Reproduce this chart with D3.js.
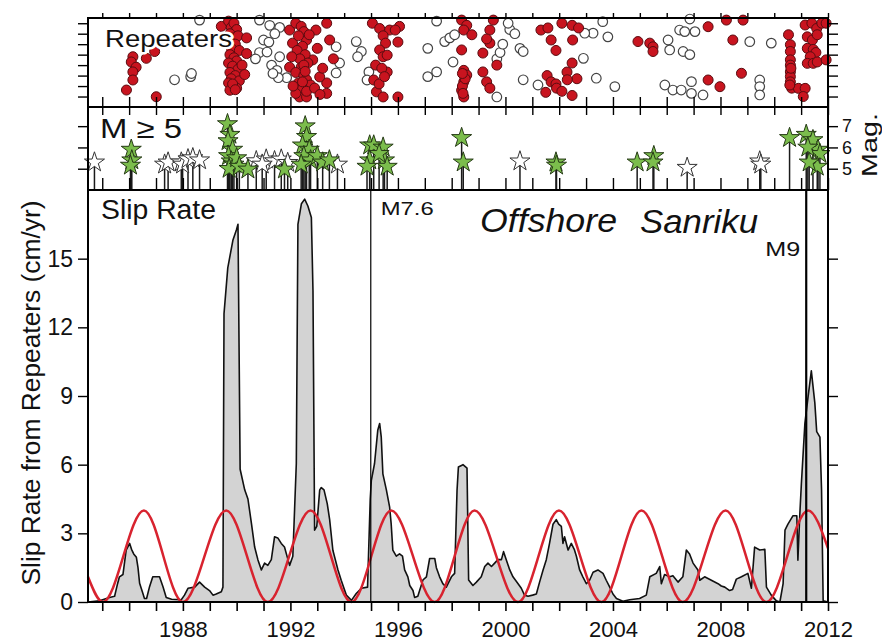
<!DOCTYPE html>
<html>
<head>
<meta charset="utf-8">
<script src="https://cdn.jsdelivr.net/npm/d3@7"></script>
<style>
  body { margin: 0; background: #fff; }
  svg { display: block; font-family: "Liberation Sans", Arial, sans-serif; }
</style>
</head>
<body>
<svg id="chart" width="882" height="643"></svg>
<script>
// tick years on the time axis
const yearTicks = d3.range(1985, 2013);
const yearLabels = [1988, 1992, 1996, 2000, 2004, 2008, 2012];
const slipTicks = [0, 3, 6, 9, 12, 15];
const magTicks = [5, 6, 7];
const repTicks = [1, 2, 3, 4, 5, 6, 7, 8];

// repeating earthquakes [year, sequence position]
const repRed = [
  [1985.9,1.62],[1986.14,4.8],[1986.08,4.3],[1986.26,3.8],[1986.14,3.35],[1986.14,2.58],
  [1986.64,4.65],[1986.95,5.3],[1987.01,0.98],
  [1989.43,7.7],[1989.7,8.2],[1989.8,7.6],[1989.9,8.0],[1990.0,7.4],[1989.75,7.0],[1989.85,6.6],
  [1990.05,6.8],[1989.7,6.2],[1989.95,6.0],[1989.8,5.6],[1990.1,5.4],[1989.75,5.0],[1989.9,4.7],
  [1990.0,4.4],[1989.7,4.2],[1989.85,3.9],[1990.05,3.6],[1989.75,3.3],[1989.95,3.0],[1989.8,2.7],
  [1990.1,2.5],[1989.7,2.3],[1989.9,2.0],[1990.0,1.8],[1989.75,1.6],[1990.37,6.6],[1990.37,5.1],
  [1990.2,4.0],[1990.3,3.1],[1989.85,2.2],[1989.95,1.65],
  [1991.97,7.35],[1992.08,6.1],[1991.97,3.8],[1992.34,0.96],[1992.6,0.96],[1993.35,1.3],
  [1993.35,2.3],[1993.09,2.87],[1992.83,4.5],[1992.6,6.4],[1992.95,7.35],[1993.35,8.0],
  [1993.46,6.4],[1993.6,4.6],[1992.2,8.0],[1992.4,7.7],[1992.5,7.2],[1992.3,6.8],[1992.7,6.9],
  [1992.45,5.8],[1992.25,5.4],[1992.55,5.0],[1992.35,4.6],[1992.65,4.2],[1992.4,3.8],
  [1992.2,3.3],[1992.5,3.0],[1992.6,2.6],[1992.3,2.3],[1992.75,2.1],[1992.45,1.8],[1992.6,1.5],
  [1992.2,1.3],[1993.0,5.6],[1993.2,3.7],[1992.9,1.8],[1993.1,1.2],[1992.1,2.0],[1992.05,4.8],
  [1992.5,4.0],[1992.55,3.4],[1992.45,2.4],
  [1995.05,8.0],[1995.32,7.5],[1995.69,7.35],[1996.06,7.7],[1995.9,7.35],[1995.45,6.8],
  [1995.54,6.1],[1995.32,5.45],[1995.45,4.8],[1995.6,4.95],[1995.17,4.0],[1995.6,3.34],
  [1995.1,2.58],[1995.2,1.45],[1995.45,0.96],[1996.0,0.96],[1996.0,6.2],[1995.4,3.7],
  [1995.3,2.2],[1995.5,2.9],
  [1998.37,8.3],[1998.56,7.8],[1998.45,7.35],[1998.75,6.9],[1998.37,5.45],[1998.45,3.5],
  [1998.56,3.05],[1998.45,2.4],[1998.37,1.6],[1998.45,0.96],[1998.4,2.0],[1998.5,2.7],
  [1998.42,1.3],[1998.4,3.2],
  [1999.16,5.15],[1999.42,6.1],[1999.42,7.35],[1999.55,8.3],[1999.16,3.35],[1999.3,2.4],
  [1999.42,1.8],[1999.68,4.0],[1999.3,6.5],
  [2001.32,7.35],[2001.58,7.55],[2001.7,6.4],[2001.88,5.4],[2002.1,8.0],[2002.48,7.8],
  [2002.72,7.55],[2002.5,6.4],[2002.48,4.2],[2002.29,3.34],[2002.66,2.7],[2001.55,3.0],
  [2001.7,2.4],[2001.88,2.2],[2001.5,1.4],[2002.48,1.1],[2001.9,1.8],[2002.1,1.5],[2002.3,2.6],
  [2004.93,6.25],[2005.37,6.1],[2005.49,5.75],[2005.49,5.3],
  [2007.54,7.67],[2007.54,2.58],[2007.98,1.94],[2008.22,8.3],[2008.84,8.3],[2008.46,6.4],
  [2008.78,3.22],
  [2010.53,6.9],[2010.6,5.95],[2010.6,5.3],[2010.6,4.5],[2010.6,4.0],[2010.6,3.35],
  [2010.6,2.9],[2010.6,2.4],[2010.65,1.8],[2010.9,1.78],[2011.15,1.78],[2011.08,1.0],
  [2011.15,7.83],[2011.4,8.0],[2011.58,7.5],[2011.77,8.0],[2011.93,8.0],[2011.23,6.7],
  [2011.42,6.4],[2011.6,6.9],[2011.23,5.6],[2011.45,5.5],[2011.55,5.2],[2011.34,4.8],
  [2011.23,4.17],[2011.45,4.17],[2011.6,4.3],[2011.93,4.5],[2010.62,3.7],[2010.58,2.1]
];
const repOpen = [
  [1987.69,2.6],[1988.29,2.9],[1988.32,3.2],[1988.62,8.3],
  [1990.85,8.3],[1991.23,7.8],[1991.6,7.6],[1991.42,7.0],[1990.85,5.2],[1991.13,5.25],
  [1991.6,4.8],[1991.3,4.0],[1991.5,3.5],[1991.86,2.8],[1991.55,2.8],[1991.35,3.2],
  [1990.7,4.6],[1991.0,6.4],[1991.2,6.2],
  [1993.7,5.75],[1993.83,4.2],[1993.7,3.25],[1994.45,6.25],[1994.64,5.3],[1994.5,4.8],
  [1994.92,3.35],[1994.85,2.58],
  [1997.11,5.6],[1997.44,8.2],[1997.74,6.25],[1997.93,6.6],[1998.11,6.9],[1998.05,4.3],
  [1997.44,3.35],[1997.11,2.9],
  [1999.68,0.96],[1999.68,4.6],[1999.8,5.2],[1999.9,6.0],[2000.16,7.4],[2000.1,8.0],
  [2000.35,7.0],[2000.54,5.6],[2000.66,5.3],[2000.66,2.6],[2001.21,2.1],
  [2002.9,4.65],[2003.38,2.75],[2004.07,1.95],[2003.62,8.15],[2003.26,7.05],[2003.81,6.7],
  [2002.95,7.05],
  [2006.05,6.4],[2006.11,5.45],[2006.48,7.35],[2006.67,7.2],[2007.05,7.2],[2006.86,8.4],
  [2006.61,5.3],[2006.86,5.0],[2005.93,2.1],[2006.23,1.62],[2006.54,1.62],[2006.92,2.42],
  [2006.92,1.3],[2007.35,1.15],
  [2009.09,6.24],[2009.89,6.1],[2009.46,2.58],[2009.46,1.95],[2009.46,1.15]
];

// M >= 5 earthquakes [year, magnitude]
const quakesGreen = [
  [1986.08,5.9],[1986.1,5.4],[1986.05,5.15],
  [1989.66,7.1],[1989.75,6.6],[1989.68,6.3],[1989.85,5.9],[1989.7,5.6],[1989.8,5.35],
  [1989.9,5.2],[1989.72,5.0],[1990.0,5.5],[1990.1,5.1],[1990.42,4.97],[1991.78,4.97],
  [1992.55,7.0],[1992.6,6.5],[1992.45,6.1],[1992.7,5.9],[1992.5,5.6],[1992.75,5.4],
  [1993.0,5.6],[1993.2,5.3],[1993.45,5.4],[1992.4,5.2],
  [1994.95,6.1],[1995.1,6.1],[1995.45,6.0],[1994.95,5.4],[1995.5,5.4],[1995.6,5.1],
  [1994.85,5.1],[1995.3,5.7],
  [1998.37,6.45],[1998.43,5.3],
  [2001.88,5.3],[2001.9,5.15],
  [2004.9,5.3],
  [2005.52,5.6],[2005.49,5.3],
  [2010.57,6.45],[2011.19,6.6],[2011.44,6.35],[2011.63,5.9],[2011.7,5.7],[2011.6,5.1],
  [2011.3,5.3],[2011.25,6.0]
];
const quakesWhite = [
  [1984.71,5.3],[1987.32,5.2],[1987.45,5.3],[1987.94,5.3],[1987.99,5.2],[1988.19,5.45],
  [1988.37,5.5],[1988.62,5.4],
  [1990.73,5.36],[1991.1,5.44],[1991.41,5.36],[1991.66,5.44],[1991.9,5.28],[1990.95,5.2],
  [1993.75,5.2],
  [2000.54,5.35],
  [2006.76,5.05],
  [2009.46,5.35],[2009.5,5.2]
];

// slip rate from repeaters [year, cm/yr]
const slipRate = [
  [1984.47,0],[1984.9,0.05],[1985.27,0.2],[1985.46,0.25],[1985.57,0.8],[1985.64,1.1],
  [1985.77,1.2],[1985.89,2.27],[1986.02,2.56],[1986.09,2.3],[1986.17,2.1],[1986.27,1.95],
  [1986.33,1.5],[1986.39,0.82],[1986.51,0.38],[1986.57,0.15],[1986.65,0.15],[1986.76,0.67],
  [1986.88,1.1],[1987.13,1.1],[1987.26,0.67],[1987.38,0.2],[1987.58,0.12],[1987.94,0.1],
  [1988.06,0.3],[1988.19,0.6],[1988.44,0.65],[1988.62,0.87],[1988.81,0.65],[1988.99,0.5],
  [1989.12,0.3],[1989.24,0.35],[1989.43,0.45],[1989.49,0.65],[1989.53,12.6],[1989.67,14.6],
  [1989.86,15.8],[1989.99,16.25],[1990.05,16.5],[1990.13,5.8],[1990.3,4.9],[1990.42,4.5],
  [1990.55,3.44],[1990.67,2.4],[1990.79,1.85],[1990.92,1.4],[1991.04,1.7],[1991.16,1.6],
  [1991.29,1.85],[1991.41,2.85],[1991.53,2.8],[1991.66,2.56],[1991.78,2.4],[1991.91,1.85],
  [1991.97,1.6],[1992.09,2.0],[1992.22,6.05],[1992.28,16.5],[1992.41,17.4],[1992.53,17.6],
  [1992.65,17.3],[1992.78,16.8],[1992.84,13.6],[1992.9,3.14],[1992.98,3.3],[1993.09,4.9],
  [1993.15,5.0],[1993.25,4.9],[1993.37,4.3],[1993.46,3.6],[1993.58,2.26],[1993.77,1.4],
  [1993.89,0.95],[1994.08,0.3],[1994.27,0.07],[1994.45,0.37],[1994.64,0.6],[1994.87,0.65],
  [1994.97,4.5],[1995.01,5.3],[1995.13,6.05],[1995.25,7.5],[1995.32,7.8],[1995.38,7.2],
  [1995.44,5.6],[1995.57,4.9],[1995.69,4.16],[1995.75,3.4],[1995.81,2.27],[1995.94,2.0],
  [1996.06,2.1],[1996.17,2.0],[1996.25,1.4],[1996.37,1.1],[1996.44,0.72],[1996.56,0.5],
  [1996.62,0.2],[1996.74,0.25],[1996.93,0.96],[1997.06,1.1],[1997.18,1.9],[1997.37,1.9],
  [1997.43,1.5],[1997.55,1.1],[1997.67,0.8],[1997.8,0.65],[1997.99,1.1],[1998.11,1.25],
  [1998.2,4.9],[1998.25,5.9],[1998.42,6.0],[1998.57,5.85],[1998.63,0.96],[1998.79,0.72],
  [1998.92,0.87],[1999.1,1.1],[1999.23,1.55],[1999.35,1.7],[1999.48,1.55],[1999.6,1.7],
  [1999.72,1.85],[1999.85,1.85],[1999.93,2.2],[2000.03,1.85],[2000.16,1.4],[2000.28,1.1],
  [2000.47,0.8],[2000.59,0.6],[2000.71,0.3],[2000.84,0.25],[2001.01,0.3],[2001.15,0.35],
  [2001.27,0.87],[2001.4,1.4],[2001.52,1.85],[2001.64,2.56],[2001.77,3.4],[2001.89,3.6],
  [2001.98,3.4],[2002.08,3.3],[2002.14,2.56],[2002.2,2.85],[2002.33,2.27],[2002.45,2.56],
  [2002.56,2.3],[2002.64,2.0],[2002.76,1.4],[2002.88,1.1],[2003.01,0.8],[2003.13,0.95],
  [2003.26,1.3],[2003.44,1.4],[2003.63,1.25],[2003.75,0.95],[2003.88,0.65],[2004.0,0.35],
  [2004.13,0.15],[2004.37,0.03],[2004.62,0.1],[2004.99,0.15],[2005.24,0.3],[2005.37,1.1],
  [2005.61,1.25],[2005.74,1.55],[2005.8,0.8],[2005.92,1.2],[2006.11,1.1],[2006.23,1.15],
  [2006.42,0.87],[2006.6,1.1],[2006.73,2.27],[2006.85,2.1],[2006.98,1.7],[2007.16,1.4],
  [2007.23,0.95],[2007.41,1.1],[2007.66,0.95],[2007.91,0.8],[2008.03,0.7],[2008.16,0.65],
  [2008.34,0.5],[2008.45,0.55],[2008.59,1.0],[2008.78,1.1],[2009.02,1.25],[2009.15,0.6],
  [2009.27,2.4],[2009.46,2.27],[2009.65,2.3],[2009.71,0.65],[2009.89,0.3],[2010.08,0.05],
  [2010.21,0],[2010.33,0.8],[2010.4,3.14],[2010.51,3.4],[2010.7,3.77],[2010.84,3.77],
  [2010.88,1.83],[2010.95,3.8],[2011.01,5.18],[2011.14,7.8],[2011.26,8.97],[2011.38,10.1],
  [2011.51,8.7],[2011.58,7.44],[2011.7,7.2],[2011.76,4.9],[2011.82,0.05],[2012.0,0]
];

// periodic slow slip curve: troughs and crests
const ssePeriodic = [
  [1984.47,1.1],[1985.02,0],[1986.55,4],[1988.0,0],[1989.61,4],[1991.16,0],[1992.75,4],
  [1994.27,0],[1995.75,4],[1997.37,0],[1998.85,4],[2000.47,0],[2001.99,4],[2003.57,0],
  [2005.06,4],[2006.6,0],[2008.19,4],[2009.71,0],[2011.26,4],[2012.0,2.34]
];

// large events marked in the slip panel
const markers = [
  {year: 1994.99, label: "M7.6"},
  {year: 2011.19, label: "M9"}
];

const svg = d3.select("#chart");
const left = 88, right = 828;
const top1 = 18, div1 = 107, div2 = 190, bottom = 602;

const x = d3.scaleLinear().domain([1984.47, 2012]).range([left, right]);
const yRep = d3.scaleLinear().domain([0, 8.5]).range([div1, top1]);
const yMag = d3.scaleLinear().domain([4, 7.9]).range([div2, div1]);
const ySlip = d3.scaleLinear().domain([0, 18]).range([bottom, div2]);

const noDomain = g => g.select(".domain").remove();

// ---- slip panel ----
svg.append("path")
  .datum(slipRate)
  .attr("fill", "#d3d3d3")
  .attr("d", d3.area().x(d => x(d[0])).y0(ySlip(0)).y1(d => ySlip(d[1])));

svg.append("path")
  .datum(slipRate)
  .attr("fill", "none")
  .attr("stroke", "#111")
  .attr("stroke-width", 1.6)
  .attr("stroke-linejoin", "round")
  .attr("d", d3.line().x(d => x(d[0])).y(d => ySlip(d[1])));

svg.append("path")
  .datum(ssePeriodic)
  .attr("fill", "none")
  .attr("stroke", "#d8232f")
  .attr("stroke-width", 2.5)
  .attr("d", d3.line().curve(d3.curveMonotoneX).x(d => x(d[0])).y(d => ySlip(d[1])));

svg.selectAll(".marker")
  .data(markers)
  .join("line")
  .attr("x1", d => x(d.year)).attr("x2", d => x(d.year))
  .attr("y1", div2).attr("y2", bottom)
  .attr("stroke", "#000")
  .attr("stroke-width", (d, i) => i ? 2.2 : 1.2);

// ---- repeaters panel ----
svg.append("g").selectAll("circle")
  .data(repOpen)
  .join("circle")
  .attr("cx", d => x(d[0]))
  .attr("cy", d => yRep(d[1]))
  .attr("r", 4.8)
  .attr("fill", "#fff")
  .attr("stroke", "#444")
  .attr("stroke-width", 1.2);

svg.append("g").selectAll("circle")
  .data(repRed)
  .join("circle")
  .attr("cx", d => x(d[0]))
  .attr("cy", d => yRep(d[1]))
  .attr("r", 5)
  .attr("fill", "#c8141f")
  .attr("stroke", "#5a0c10")
  .attr("stroke-width", 1);

// ---- M >= 5 panel ----
const allQuakes = quakesWhite.map(d => ({year: d[0], mag: d[1], green: false}))
  .concat(quakesGreen.map(d => ({year: d[0], mag: d[1], green: true})));

svg.append("g").selectAll("line")
  .data(allQuakes)
  .join("line")
  .attr("x1", d => x(d.year)).attr("x2", d => x(d.year))
  .attr("y1", d => yMag(d.mag)).attr("y2", div2)
  .attr("stroke", "#1a1a1a")
  .attr("stroke-width", 1.5);

const star = d3.symbol().type(d3.symbolStar).size(125);
svg.append("g").selectAll("path")
  .data(allQuakes)
  .join("path")
  .attr("d", star)
  .attr("transform", d => `translate(${x(d.year)},${yMag(d.mag)})`)
  .attr("fill", d => d.green ? "#7bbd4c" : "#fff")
  .attr("stroke", d => d.green ? "#263a16" : "#333")
  .attr("stroke-width", 1);

// ---- axes and frame ----
const font = g => g.selectAll("text")
  .attr("font-family", "Liberation Sans, Arial, sans-serif")
  .attr("fill", "#111");

svg.append("g")
  .attr("transform", `translate(0,${bottom})`)
  .call(d3.axisBottom(x).tickValues(yearTicks).tickSize(9).tickPadding(10)
    .tickFormat(d => yearLabels.includes(d) ? d : ""))
  .call(noDomain)
  .call(font)
  .call(g => g.selectAll("text").attr("font-size", 22))
  .call(g => g.selectAll("line").attr("stroke-width", 1.6));

svg.append("g")
  .attr("transform", `translate(0,${top1})`)
  .call(d3.axisTop(x).tickValues(yearTicks).tickSize(5).tickFormat(""))
  .call(noDomain)
  .call(g => g.selectAll("line").attr("stroke-width", 1.4));

svg.append("g")
  .attr("transform", `translate(0,${div1})`)
  .call(d3.axisTop(x).tickValues(yearTicks).tickSize(10).tickFormat(""))
  .call(noDomain)
  .call(g => g.selectAll("line").attr("stroke-width", 1.4));

svg.append("g")
  .attr("transform", `translate(0,${div1})`)
  .call(d3.axisBottom(x).tickValues(yearTicks).tickSize(8).tickFormat(""))
  .call(noDomain)
  .call(g => g.selectAll("line").attr("stroke-width", 1.4));

svg.append("g")
  .attr("transform", `translate(0,${div2})`)
  .call(d3.axisTop(x).tickValues(yearTicks).tickSize(12).tickFormat(""))
  .call(noDomain)
  .call(g => g.selectAll("line").attr("stroke-width", 1.4));

svg.append("g")
  .attr("transform", `translate(${left},0)`)
  .call(d3.axisLeft(ySlip).tickValues(slipTicks).tickSize(10).tickPadding(5))
  .call(noDomain)
  .call(font)
  .call(g => g.selectAll("text").attr("font-size", 23))
  .call(g => g.selectAll("line").attr("stroke-width", 1.4));

svg.append("g")
  .attr("transform", `translate(${right},0)`)
  .call(d3.axisRight(ySlip).tickValues(slipTicks).tickSize(10).tickFormat(""))
  .call(noDomain)
  .call(g => g.selectAll("line").attr("stroke-width", 1.4));

svg.append("g")
  .attr("transform", `translate(${left},0)`)
  .call(d3.axisLeft(yMag).tickValues(magTicks).tickSize(10).tickFormat(""))
  .call(noDomain)
  .call(g => g.selectAll("line").attr("stroke-width", 1.4));

svg.append("g")
  .attr("transform", `translate(${right},0)`)
  .call(d3.axisRight(yMag).tickValues(magTicks).tickSize(10).tickPadding(4)
    .tickFormat(d3.format("d")))
  .call(noDomain)
  .call(font)
  .call(g => g.selectAll("text").attr("font-size", 18).attr("textLength", 10)
    .attr("lengthAdjust", "spacingAndGlyphs"))
  .call(g => g.selectAll("line").attr("stroke-width", 1.4));

[d3.axisLeft(yRep), d3.axisRight(yRep)].forEach((ax, i) => {
  svg.append("g")
    .attr("transform", `translate(${i ? right : left},0)`)
    .call(ax.tickValues(repTicks).tickSize(10).tickFormat(""))
    .call(noDomain)
    .call(g => g.selectAll("line").attr("stroke-width", 1.4));
});

svg.append("rect")
  .attr("x", left).attr("y", top1)
  .attr("width", right - left).attr("height", bottom - top1)
  .attr("fill", "none").attr("stroke", "#000").attr("stroke-width", 2);

[div1, div2].forEach(y => {
  svg.append("line")
    .attr("x1", left).attr("x2", right).attr("y1", y).attr("y2", y)
    .attr("stroke", "#000").attr("stroke-width", 2);
});

// ---- labels ----
function label(txt, xPos, yPos, size, len, extra) {
  const t = svg.append("text")
    .attr("x", xPos).attr("y", yPos)
    .attr("font-size", size)
    .attr("fill", "#111")
    .attr("textLength", len)
    .attr("lengthAdjust", "spacingAndGlyphs")
    .text(txt);
  if (extra) extra(t);
  return t;
}

label("Repeaters", 105, 47, 23, 127, t => t
  .attr("stroke", "#fff").attr("stroke-width", 5)
  .attr("paint-order", "stroke").attr("stroke-linejoin", "round"));
label("M \u2265 5", 100, 138, 28, 82);
label("Slip Rate", 101, 219, 27, 115);
label(markers[0].label, x(markers[0].year) + 10, 215, 19, 53);
label(markers[1].label, x(markers[1].year) - 41, 256, 21, 35);
label("Offshore", 480, 232, 34, 137, t => t.attr("font-style", "italic"));
label("Sanriku", 640, 233, 34, 118, t => t.attr("font-style", "italic"));

svg.append("text")
  .attr("transform", "translate(40,393) rotate(-90)")
  .attr("text-anchor", "middle")
  .attr("font-size", 26)
  .attr("fill", "#111")
  .attr("textLength", 385)
  .attr("lengthAdjust", "spacingAndGlyphs")
  .text("Slip Rate from Repeaters (cm/yr)");

svg.append("text")
  .attr("transform", "translate(877,145) rotate(-90)")
  .attr("text-anchor", "middle")
  .attr("font-size", 22)
  .attr("fill", "#111")
  .attr("textLength", 64)
  .attr("lengthAdjust", "spacingAndGlyphs")
  .text("Mag.");
</script>
</body>
</html>
